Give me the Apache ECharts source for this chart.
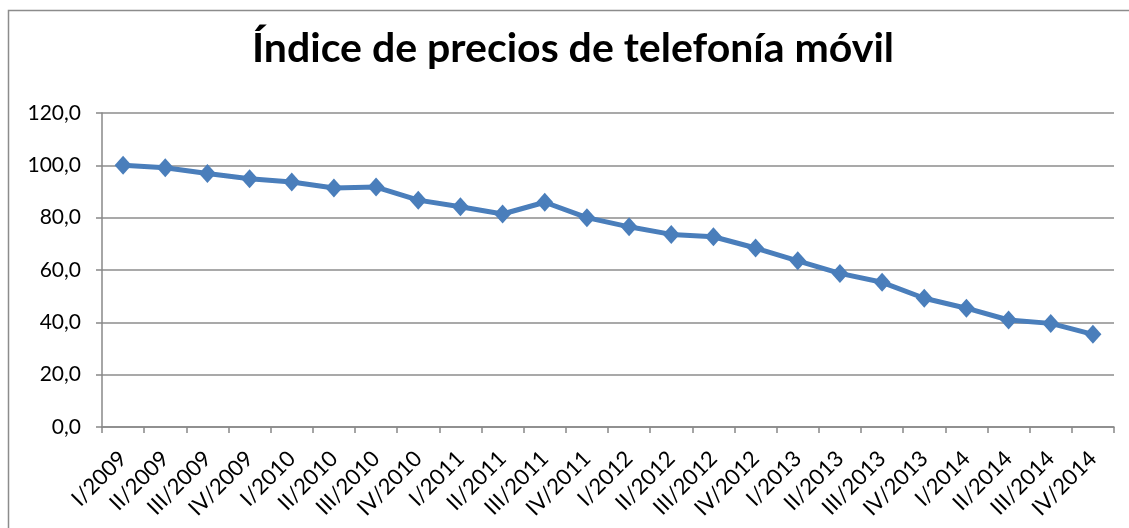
<!DOCTYPE html>
<html>
<head>
<meta charset="utf-8">
<script src="https://cdn.jsdelivr.net/npm/echarts@6/dist/echarts.min.js"></script>
<style>
  html, body { margin: 0; padding: 0; background: #fff; }
  #chart { width: 1129px; height: 528px; }
</style>
</head>
<body>
<div id="chart"></div>
<script>
// trimestres 2009-2014
const quarters = [
  'I/2009', 'II/2009', 'III/2009', 'IV/2009',
  'I/2010', 'II/2010', 'III/2010', 'IV/2010',
  'I/2011', 'II/2011', 'III/2011', 'IV/2011',
  'I/2012', 'II/2012', 'III/2012', 'IV/2012',
  'I/2013', 'II/2013', 'III/2013', 'IV/2013',
  'I/2014', 'II/2014', 'III/2014', 'IV/2014'
];
const priceIndex = [
  100.0, 99.1, 96.9, 94.9,
  93.6, 91.3, 91.7, 86.7,
  84.2, 81.4, 85.9, 80.0,
  76.5, 73.6, 72.7, 68.4,
  63.5, 58.7, 55.3, 49.2,
  45.4, 40.9, 39.6, 35.4
];
const yTicks = [0, 20, 40, 60, 80, 100, 120];

const chart = echarts.init(document.getElementById('chart'));
const option = {
  animation: false,
  title: {
    text: 'Índice de precios de telefonía móvil',
    left: 247,
    top: 23,
    textStyle: {
      fontFamily: 'Lato',
      fontWeight: 'bold',
      fontSize: 41,
      color: '#000'
    }
  },
  graphic: [
    {
      type: 'rect',
      shape: { x: 8.5, y: 10.5, width: 1200, height: 600 },
      style: { fill: 'none', stroke: '#8c8c8c', lineWidth: 1.5 },
      silent: true
    }
  ],
  grid: {
    left: 102,
    right: 15,
    top: 113,
    bottom: 101
  },
  xAxis: {
    type: 'category',
    data: quarters,
    boundaryGap: true,
    axisLine: { lineStyle: { color: '#888', width: 1.5 } },
    axisTick: { show: true, length: 6, lineStyle: { color: '#888', width: 1.5 } },
    axisLabel: {
      interval: 0,
      rotate: 45,
      color: '#000',
      fontFamily: 'Lato',
      fontSize: 22,
      margin: 28
    }
  },
  yAxis: {
    type: 'value',
    min: yTicks[0],
    max: yTicks[yTicks.length - 1],
    interval: 20,
    axisLine: { show: true, lineStyle: { color: '#888', width: 1.5 } },
    axisTick: { show: true, length: 6, lineStyle: { color: '#888', width: 1.5 } },
    splitLine: { lineStyle: { color: '#8c8c8c', width: 1.5 } },
    axisLabel: {
      color: '#000',
      fontFamily: 'Lato',
      fontSize: 21,
      margin: 21,
      formatter: v => v.toFixed(1).replace('.', ',')
    }
  },
  series: [
    {
      type: 'line',
      data: priceIndex,
      symbol: 'diamond',
      symbolSize: [17, 19],
      lineStyle: { color: '#4a7ebb', width: 5 },
      itemStyle: { color: '#4a7ebb' }
    }
  ]
};
chart.setOption(option);
</script>
</body>
</html>
